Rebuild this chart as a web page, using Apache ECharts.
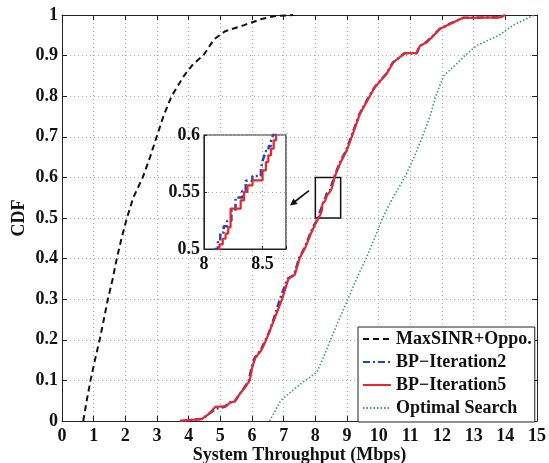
<!DOCTYPE html>
<html>
<head>
<meta charset="utf-8">
<script src="https://cdn.jsdelivr.net/npm/echarts/dist/echarts.min.js"></script>
<style>
html, body { margin: 0; padding: 0; background: #fff; }
#chart { width: 549px; height: 463px; }
</style>
</head>
<body>
<div id="chart"></div>
<script>
// values (x = throughput in Mbps, cdf = F(x))
var seriesNames = ['MaxSINR+Oppo.', 'BP\u2212Iteration2', 'BP\u2212Iteration5', 'Optimal Search'];

var maxSinrX   = [0.67, 0.78, 0.9, 1.04, 1.19, 1.32, 1.45, 1.6, 1.73, 1.88, 2.05, 2.25, 2.55, 2.78, 2.99, 3.2, 3.46, 3.85, 4.15, 4.46, 4.8, 5.15, 5.75, 6.3, 6.7, 7.3];
var maxSinrCdf = [0, 0.05, 0.1, 0.15, 0.2, 0.25, 0.3, 0.35, 0.4, 0.45, 0.5, 0.55, 0.6, 0.65, 0.7, 0.75, 0.8, 0.85, 0.88, 0.9, 0.94, 0.96, 0.975, 0.99, 0.997, 1];

var bp2X   = [3.73, 4.42, 4.6, 4.85, 5.15, 5.25, 5.45, 5.6, 5.78, 5.9, 5.98, 6.08, 6.28, 6.43, 6.55, 6.68, 6.88, 7.12, 7.33, 7.48, 7.68, 7.83, 7.98,
              8.095, 8.119, 8.139, 8.168, 8.197, 8.234, 8.269, 8.327, 8.356, 8.413, 8.486, 8.5, 8.514, 8.529, 8.552, 8.572, 8.587, 8.6,
              8.76, 8.97, 9.13, 9.4, 9.65, 9.87, 10.24, 10.45, 10.82, 11.2, 11.3, 11.5, 11.72, 11.93, 12.24, 12.66, 13.83, 13.99];
var bp2Cdf = [0, 0.005, 0.015, 0.03, 0.035, 0.045, 0.048, 0.065, 0.085, 0.1, 0.13, 0.155, 0.175, 0.2, 0.22, 0.25, 0.3, 0.35, 0.36, 0.4, 0.43, 0.46, 0.485,
              0.5, 0.507, 0.5145, 0.52, 0.5248, 0.5335, 0.5451, 0.551, 0.5598, 0.5641, 0.57, 0.5773, 0.5816, 0.586, 0.5904, 0.5947, 0.5991, 0.602,
              0.634, 0.666, 0.7, 0.757, 0.793, 0.822, 0.855, 0.883, 0.906, 0.906, 0.924, 0.933, 0.949, 0.966, 0.978, 0.993, 0.994, 1];

var bp5X   = [3.73, 4.42, 4.6, 4.85, 5.2, 5.3, 5.45, 5.6, 5.8, 5.93, 6.0, 6.1, 6.3, 6.45, 6.55, 6.7, 6.95, 7.15, 7.35, 7.5, 7.7, 7.85, 8.0,
              8.132, 8.16, 8.184, 8.207, 8.227, 8.313, 8.342, 8.371, 8.414, 8.5, 8.529, 8.549, 8.572, 8.595, 8.615,
              8.78, 8.99, 9.15, 9.41, 9.67, 9.88, 10.25, 10.46, 10.83, 11.2, 11.3, 11.52, 11.73, 11.94, 12.25, 12.67, 13.83, 13.99];
var bp5Cdf = [0, 0.005, 0.015, 0.035, 0.037, 0.045, 0.048, 0.065, 0.085, 0.1, 0.13, 0.155, 0.175, 0.2, 0.22, 0.25, 0.3, 0.35, 0.36, 0.4, 0.43, 0.46, 0.485,
              0.504, 0.509, 0.5135, 0.519, 0.5354, 0.5427, 0.55, 0.5558, 0.5602, 0.569, 0.5763, 0.5822, 0.588, 0.5953, 0.602,
              0.634, 0.666, 0.7, 0.757, 0.793, 0.822, 0.855, 0.883, 0.906, 0.906, 0.924, 0.933, 0.949, 0.966, 0.978, 0.993, 0.994, 1];

var optX   = [6.55, 6.7, 6.9, 7.2, 7.68, 8.05, 8.22, 8.48, 8.75, 9.03, 9.3, 9.6, 9.87, 10.12, 10.45, 10.82, 11.12, 11.38, 11.62, 11.8, 12.05, 12.4, 12.72, 13.1, 13.8, 14.25, 14.92];
var optCdf = [0, 0.02, 0.05, 0.07, 0.1, 0.12, 0.15, 0.2, 0.25, 0.3, 0.35, 0.4, 0.45, 0.5, 0.55, 0.6, 0.65, 0.7, 0.75, 0.8, 0.85, 0.875, 0.9, 0.925, 0.95, 0.975, 1];

// zoomed region
var zoomX = [8, 8.7];
var zoomY = [0.5, 0.6];
var boxX = [8, 8.8];

function zip(xs, ys) {
    var out = [];
    for (var i = 0; i < xs.length; i++) out.push([xs[i], ys[i]]);
    return out;
}

var font = 'Liberation Serif';
var ink = '#111';
var colors = ['#111111', '#2443c4', '#e8262b', '#3a9b73'];
var styles = [
    { width: 2, type: [6, 4] },
    { width: 2.5, type: [7, 3, 2, 3] },
    { width: 2.2, type: 'solid' },
    { width: 1.6, type: [1.5, 2] }
];
var labelStyle = { fontFamily: font, fontWeight: 'bold', fontSize: 18, color: ink };
var dotted = { color: '#aaa', width: 1, type: [1, 3] };

var myChart = echarts.init(document.getElementById('chart'), null, { renderer: 'canvas' });

function mainLine(i, data) {
    return {
        name: seriesNames[i], type: 'line', data: data,
        xAxisIndex: 0, yAxisIndex: 0,
        symbol: 'none', z: 2,
        lineStyle: { color: colors[i], width: styles[i].width, type: styles[i].type },
        itemStyle: { color: colors[i] }
    };
}
function insetLine(i, data) {
    return {
        name: seriesNames[i], type: 'line', data: data,
        xAxisIndex: 2, yAxisIndex: 2,
        symbol: 'none', step: 'end', clip: true, z: 6,
        lineStyle: { color: colors[i], width: styles[i].width, type: styles[i].type },
        itemStyle: { color: colors[i] }
    };
}

var bp5Main = mainLine(2, zip(bp5X, bp5Cdf));
bp5Main.markArea = {
    silent: true,
    itemStyle: { color: 'rgba(0,0,0,0)', borderColor: ink, borderWidth: 1.5 },
    data: [[{ coord: [boxX[0], zoomY[0]] }, { coord: [boxX[1], zoomY[1]] }]]
};

option = {
    animation: false,
    backgroundColor: '#fff',
    grid: [
        { left: 62, top: 15, width: 475, height: 406, outerBoundsMode: 'none' },
        { left: 204, top: 135, width: 82, height: 114, show: true, backgroundColor: '#fff',
          borderColor: '#222', borderWidth: 1.2, z: 3, outerBoundsMode: 'none' }
    ],
    xAxis: [
        { gridIndex: 0, type: 'value', min: 0, max: 15, interval: 1, position: 'bottom',
          name: 'System Throughput (Mbps)', nameLocation: 'middle', nameGap: 25, nameMoveOverlap: false,
          nameTextStyle: labelStyle,
          axisLine: { show: true, onZero: false, lineStyle: { color: '#222' } },
          axisTick: { show: true, inside: true, length: 5, lineStyle: { color: '#222' } },
          axisLabel: { margin: 6, fontFamily: font, fontWeight: 'bold', fontSize: 18, color: ink },
          splitLine: { show: true, lineStyle: dotted } },
        { gridIndex: 0, type: 'value', min: 0, max: 15, interval: 1, position: 'top',
          axisLine: { show: true, onZero: false, lineStyle: { color: '#222' } },
          axisTick: { show: true, inside: true, length: 5, lineStyle: { color: '#222' } },
          axisLabel: { show: false }, splitLine: { show: false } },
        { gridIndex: 1, type: 'value', min: zoomX[0], max: zoomX[1], interval: 0.5, z: 4,
          axisLine: { show: true, onZero: false, lineStyle: { color: '#222' } },
          axisTick: { show: true, inside: true, length: 3, lineStyle: { color: '#222' } },
          axisLabel: { margin: 6, fontFamily: font, fontWeight: 'bold', fontSize: 18, color: ink,
                       formatter: function (v) { return (v === 8 || v === 8.5) ? String(v) : ''; } },
          splitLine: { show: true, lineStyle: dotted } }
    ],
    yAxis: [
        { gridIndex: 0, type: 'value', min: 0, max: 1, interval: 0.1, position: 'left',
          name: 'CDF', nameLocation: 'middle', nameGap: 34, nameRotate: 90, nameMoveOverlap: false,
          nameTextStyle: labelStyle,
          axisLine: { show: true, onZero: false, lineStyle: { color: '#222' } },
          axisTick: { show: true, inside: true, length: 5, lineStyle: { color: '#222' } },
          axisLabel: { margin: 4, fontFamily: font, fontWeight: 'bold', fontSize: 18, color: ink },
          splitLine: { show: true, lineStyle: dotted } },
        { gridIndex: 0, type: 'value', min: 0, max: 1, interval: 0.1, position: 'right',
          axisLine: { show: true, onZero: false, lineStyle: { color: '#222' } },
          axisTick: { show: true, inside: true, length: 5, lineStyle: { color: '#222' } },
          axisLabel: { show: false }, splitLine: { show: false } },
        { gridIndex: 1, type: 'value', min: zoomY[0], max: zoomY[1], interval: 0.05, z: 4,
          axisLine: { show: true, onZero: false, lineStyle: { color: '#222' } },
          axisTick: { show: true, inside: true, length: 3, lineStyle: { color: '#222' } },
          axisLabel: { margin: 4, fontFamily: font, fontWeight: 'bold', fontSize: 18, color: ink,
                       formatter: function (v) { return String(+v.toFixed(2)); } },
          splitLine: { show: true, lineStyle: dotted } }
    ],
    legend: {
        orient: 'vertical', left: 358, top: 327,
        backgroundColor: '#fff', borderColor: '#222', borderWidth: 1,
        padding: [3, 3, 5, 4], itemWidth: 28, itemHeight: 14, itemGap: 5,
        itemStyle: { opacity: 0 },
        textStyle: { fontFamily: font, fontWeight: 'bold', fontSize: 18, lineHeight: 18, color: ink },
        data: seriesNames, z: 10
    },
    graphic: [
        { type: 'line', z: 10, shape: { x1: 309, y1: 190.7, x2: 295, y2: 201.5 },
          style: { stroke: ink, lineWidth: 1.6 } },
        { type: 'polygon', z: 10, shape: { points: [[290, 205.5], [297.7, 204], [293.4, 198.4]] },
          style: { fill: ink } }
    ],
    series: [
        mainLine(0, zip(maxSinrX, maxSinrCdf)),
        mainLine(1, zip(bp2X, bp2Cdf)),
        bp5Main,
        mainLine(3, zip(optX, optCdf)),
        insetLine(1, zip(bp2X, bp2Cdf)),
        insetLine(2, zip(bp5X, bp5Cdf))
    ]
};
myChart.setOption(option);
</script>
</body>
</html>
